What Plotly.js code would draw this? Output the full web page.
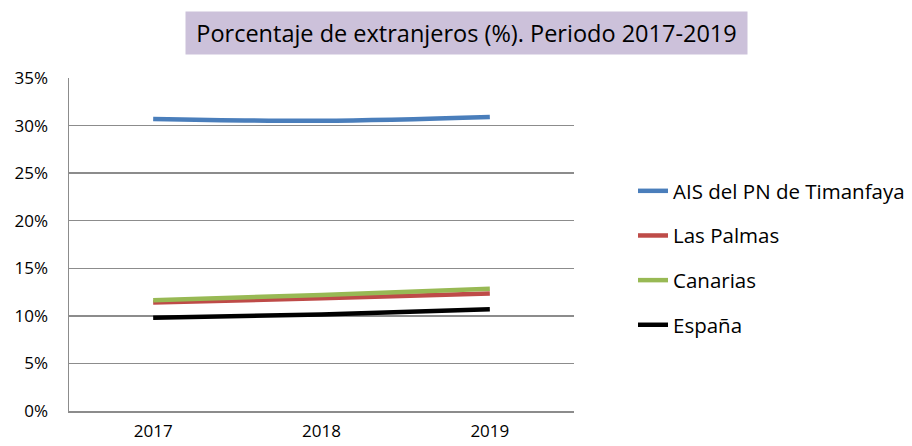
<!DOCTYPE html>
<html>
<head>
<meta charset="utf-8">
<script src="https://cdn.plot.ly/plotly-3.0.1.min.js"></script>
<style>html,body{margin:0;padding:0;background:#fff;}#chart{width:912px;height:446px;}</style>
</head>
<body>
<div id="chart"></div>
<script>
const years = ['2017', '2018', '2019'];
const seriesNames = ['AIS del PN de Timanfaya', 'Las Palmas', 'Canarias', 'España'];
const timanfaya = [30.7, 30.5, 30.9];
const lasPalmas = [11.4, 11.85, 12.35];
const canarias = [11.65, 12.2, 12.85];
const espana = [9.8, 10.15, 10.7];
const colors = ['#4a7ebb', '#be4b48', '#98b954', '#000000'];
const yTicks = [0, 5, 10, 15, 20, 25, 30, 35];
const titleText = 'Porcentaje de extranjeros (%). Periodo 2017-2019';

const FONT = '"Open Sans", Lato, sans-serif';
const allSeries = [timanfaya, lasPalmas, canarias, espana];
const traces = allSeries.map((vals, i) => ({
  type: 'scatter',
  mode: 'lines',
  x: years,
  y: vals,
  name: seriesNames[i],
  legendgroup: 'g' + i,
  legendrank: i + 1,
  line: {color: colors[i], width: 4.5, shape: 'spline'}
}));
const drawOrder = [traces[3], traces[1], traces[2], traces[0]];

const plotL = 69, plotR = 338, plotT = 78, plotB = 35;
const pw = 912 - plotL - plotR, ph = 446 - plotT - plotB;

const layout = {
  width: 912, height: 446,
  margin: {l: plotL, r: plotR, t: plotT, b: plotB, pad: 0, autoexpand: false},
  paper_bgcolor: '#ffffff', plot_bgcolor: '#ffffff',
  font: {family: FONT, size: 16, color: '#000'},
  showlegend: true,
  legend: {
    x: (633 - plotL) / pw, xanchor: 'left',
    y: (446 - plotB - 258) / ph, yanchor: 'middle',
    font: {family: FONT, size: 20.5, color: '#000'},
    tracegroupgap: 15, bgcolor: 'rgba(0,0,0,0)'
  },
  xaxis: {
    type: 'category', range: [-0.5, 2.5],
    showgrid: false, zeroline: false,
    showline: true, linecolor: '#8c8c8c', linewidth: 1.5,
    ticks: '', ticklabelstandoff: 4,
    tickfont: {family: FONT, size: 17, color: '#000'}
  },
  yaxis: {
    range: [0, 35], tickvals: yTicks, ticktext: yTicks.map(v => v + '%'),
    showgrid: true, gridcolor: '#8c8c8c', gridwidth: 1.5,
    zeroline: false, showline: true, linecolor: '#8c8c8c', linewidth: 1.5,
    ticks: '', ticklabelstandoff: 16,
    tickfont: {family: FONT, size: 17, color: '#000'}
  },
  annotations: [{
    xref: 'paper', yref: 'paper',
    x: (466 - plotL) / pw, y: (446 - plotB - 33) / ph,
    xanchor: 'center', yanchor: 'middle',
    text: titleText, showarrow: false,
    font: {family: FONT, size: 23.5, color: '#000'},
    bgcolor: '#ccc1da', width: 559, height: 40, align: 'center', valign: 'middle'
  }]
};

Plotly.newPlot('chart', drawOrder, layout, {displayModeBar: false, staticPlot: true});
</script>
</body>
</html>
